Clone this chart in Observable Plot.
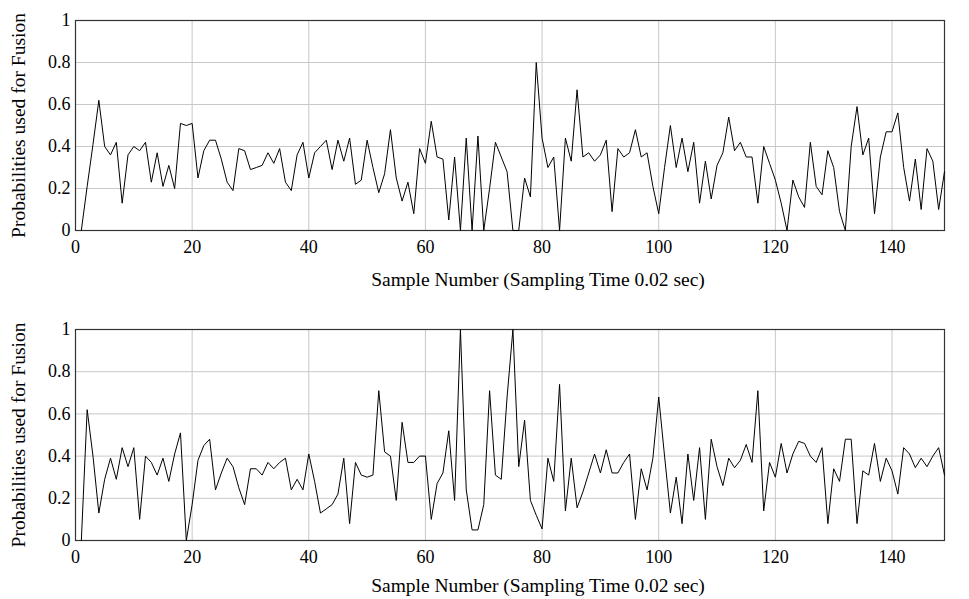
<!DOCTYPE html>
<html>
<head>
<meta charset="utf-8">
<script src="https://cdn.jsdelivr.net/npm/d3@7"></script>
<script src="https://cdn.jsdelivr.net/npm/@observablehq/plot@0.6"></script>
<style>
  html, body { margin: 0; padding: 0; background: #fff; }
  #chart svg { display: block; }
</style>
</head>
<body>
<div id="chart"></div>
<script>
// ---- data ----
const sampleIndex = d3.range(1, 150); // samples 1..149

const topProb = [
  0, 0.21, 0.41, 0.62, 0.40, 0.36, 0.42, 0.13, 0.36, 0.40,
  0.38, 0.42, 0.23, 0.37, 0.21, 0.31, 0.20, 0.51, 0.50, 0.51,
  0.25, 0.38, 0.43, 0.43, 0.34, 0.23, 0.19, 0.39, 0.38, 0.29,
  0.30, 0.31, 0.37, 0.32, 0.39, 0.23, 0.19, 0.36, 0.42, 0.25,
  0.37, 0.40, 0.43, 0.29, 0.43, 0.33, 0.44, 0.22, 0.24, 0.43,
  0.30, 0.18, 0.27, 0.48, 0.25, 0.14, 0.23, 0.08, 0.39, 0.32,
  0.52, 0.35, 0.34, 0.05, 0.35, 0, 0.44, 0, 0.45, 0,
  0.20, 0.42, 0.35, 0.28, 0, 0, 0.25, 0.16, 0.80, 0.44,
  0.30, 0.35, 0, 0.44, 0.33, 0.67, 0.35, 0.37, 0.33, 0.36,
  0.43, 0.09, 0.39, 0.35, 0.37, 0.48, 0.35, 0.37, 0.21, 0.08,
  0.30, 0.50, 0.30, 0.44, 0.28, 0.42, 0.13, 0.33, 0.15, 0.31,
  0.37, 0.54, 0.38, 0.42, 0.35, 0.35, 0.13, 0.40, 0.32, 0.24,
  0.13, 0, 0.24, 0.16, 0.11, 0.42, 0.21, 0.17, 0.38, 0.30,
  0.09, 0, 0.40, 0.59, 0.36, 0.44, 0.08, 0.35, 0.47, 0.47,
  0.56, 0.30, 0.14, 0.34, 0.10, 0.39, 0.33, 0.10, 0.28
];

const bottomProb = [
  0, 0.62, 0.40, 0.13, 0.29, 0.39, 0.29, 0.44, 0.35, 0.44,
  0.10, 0.40, 0.37, 0.31, 0.39, 0.28, 0.41, 0.51, 0, 0.17,
  0.38, 0.45, 0.48, 0.24, 0.32, 0.39, 0.35, 0.25, 0.17, 0.34,
  0.34, 0.31, 0.37, 0.34, 0.37, 0.39, 0.24, 0.29, 0.24, 0.41,
  0.28, 0.13, 0.15, 0.17, 0.22, 0.39, 0.08, 0.37, 0.31, 0.30,
  0.31, 0.71, 0.42, 0.40, 0.19, 0.56, 0.37, 0.37, 0.40, 0.40,
  0.10, 0.27, 0.32, 0.52, 0.19, 1.0, 0.24, 0.05, 0.05, 0.17,
  0.71, 0.31, 0.29, 0.68, 1.0, 0.35, 0.57, 0.19, 0.12, 0.055,
  0.39, 0.28, 0.74, 0.14, 0.39, 0.155, 0.23, 0.32, 0.41, 0.32,
  0.43, 0.32, 0.32, 0.37, 0.41, 0.10, 0.34, 0.24, 0.39, 0.68,
  0.40, 0.13, 0.30, 0.08, 0.41, 0.19, 0.44, 0.10, 0.48, 0.35,
  0.26, 0.39, 0.345, 0.38, 0.455, 0.37, 0.71, 0.14, 0.37, 0.30,
  0.46, 0.32, 0.41, 0.47, 0.46, 0.40, 0.37, 0.44, 0.08, 0.34,
  0.28, 0.48, 0.48, 0.08, 0.33, 0.31, 0.46, 0.28, 0.39, 0.33,
  0.22, 0.44, 0.41, 0.345, 0.39, 0.35, 0.40, 0.44, 0.31
];

const xTicks = [0, 20, 40, 60, 80, 100, 120, 140];
const yTicks = [0, 0.2, 0.4, 0.6, 0.8, 1];
const yTickLabels = ["0", "0.2", "0.4", "0.6", "0.8", "1"];
const xLabel = "Sample Number (Sampling Time 0.02 sec)";
const yLabel = "Probabilities used for Fusion";

function panel(values, {height, marginTop, marginBottom, labelDy}) {
  const data = values.map((v, i) => ({n: sampleIndex[i], p: v}));
  return Plot.plot({
    width: 969,
    height,
    marginLeft: 75,
    marginRight: 25,
    marginTop,
    marginBottom,
    x: {domain: [0, 149], label: null},
    y: {domain: [0, 1], label: null},
    style: {fontFamily: "'Liberation Serif', 'DejaVu Serif', serif", fontSize: "18px", color: "#000", background: "#fff"},
    marks: [
      Plot.gridX(xTicks, {stroke: "#c8c8c8", strokeOpacity: 1, strokeWidth: 1}),
      Plot.gridY(yTicks, {stroke: "#c8c8c8", strokeOpacity: 1, strokeWidth: 1}),
      Plot.axisX({ticks: xTicks, tickSize: 0, tickPadding: 10, label: null, fontSize: 18}),
      Plot.axisY({ticks: yTicks, tickSize: 0, tickPadding: 5, label: null, fontSize: 18,
                  tickFormat: (d) => yTickLabels[yTicks.indexOf(d)]}),
      Plot.frame({stroke: "#333", strokeWidth: 1.2}),
      Plot.line(data, {x: "n", y: "p", stroke: "#000", strokeWidth: 1}),
      Plot.text([xLabel], {frameAnchor: "bottom", dx: 28, dy: labelDy, fontSize: 19.5, fill: "#000"}),
      Plot.text([yLabel], {frameAnchor: "left", textAnchor: "middle", rotate: -90, dx: -57, fontSize: 19.5, fill: "#000"})
    ]
  });
}

const chart = document.getElementById("chart");
chart.append(panel(topProb, {height: 300, marginTop: 20, marginBottom: 70, labelDy: 55}));
chart.append(panel(bottomProb, {height: 299, marginTop: 29, marginBottom: 59, labelDy: 51}));
</script>
</body>
</html>
